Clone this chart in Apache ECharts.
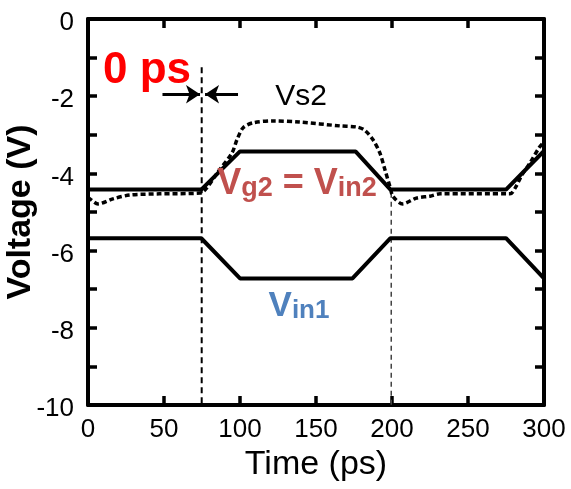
<!DOCTYPE html>
<html>
<head>
<meta charset="utf-8">
<script src="https://cdn.jsdelivr.net/npm/echarts@6/dist/echarts.min.js"></script>
<style>html,body{margin:0;padding:0;background:#fff;}#c{width:571px;height:489px;}</style>
</head>
<body>
<div id="c"></div>
<script>
// ---- data ----
var xTicks = [0, 50, 100, 150, 200, 250, 300];
var yTicks = [0, -2, -4, -6, -8, -10];
var vg2Time = [0, 74.5, 100, 176, 199, 275, 300];
var vg2Volt = [-4.42, -4.42, -3.43, -3.43, -4.42, -4.42, -3.42];
var vin1Time = [0, 74.5, 100, 174, 199, 275, 300];
var vin1Volt = [-5.68, -5.68, -6.72, -6.72, -5.68, -5.68, -6.72];
var vs2Time = [0, 1.3, 6.6, 16.4, 27.6, 47, 73.7, 78, 85, 94.7, 98, 102, 108.5, 121.7, 139, 166, 177, 182, 187.5, 192, 195.4, 198.7, 200.7, 207, 216, 225, 231.6, 277.6, 281, 285.5, 290.8, 297, 300];
var vs2Volt = [-4.62, -4.66, -4.79, -4.66, -4.56, -4.53, -4.51, -4.38, -3.99, -3.47, -3.13, -2.82, -2.69, -2.64, -2.67, -2.77, -2.8, -2.88, -3.13, -3.47, -3.91, -4.35, -4.6, -4.79, -4.64, -4.59, -4.53, -4.53, -4.38, -4.04, -3.73, -3.32, -3.19];
var marker0Time = [74.8, 74.8];
var marker0Volt = [-1.25, -10];
var marker1Time = [199.5, 199.5];
var marker1Volt = [-4.5, -10];
var arrowY = -1.95;
var arrowRight = [49, 73.7];
var arrowLeft = [98.7, 77];

function zip(a, b) { return a.map(function (v, i) { return [v, b[i]]; }); }

var FONT = 'Liberation Sans, Arial, sans-serif';
var chart = echarts.init(document.getElementById('c'), null, {renderer: 'canvas'});

var axisLineStyle = {color: '#000', width: 4};
var tickStyle = {color: '#000', width: 3.5};

chart.setOption({
  animation: false,
  backgroundColor: '#fff',
  grid: {left: 88, right: 27, top: 19, bottom: 84, containLabel: false, outerBoundsMode: 'none'},
  xAxis: [{
    type: 'value', min: 0, max: 300, interval: 50, position: 'bottom',
    name: 'Time (ps)', nameLocation: 'middle', nameGap: 40,
    nameTextStyle: {fontFamily: FONT, fontSize: 34, color: '#000'},
    axisLine: {show: true, onZero: false, lineStyle: axisLineStyle},
    axisTick: {show: true, inside: true, length: 9, lineStyle: tickStyle},
    axisLabel: {fontFamily: FONT, fontSize: 26, color: '#000', margin: 12,
      formatter: function (v) { return xTicks.indexOf(v) >= 0 ? String(v) : ''; }},
    splitLine: {show: false}
  }, {
    type: 'value', min: 0, max: 300, interval: 50, position: 'top',
    axisLine: {show: true, onZero: false, lineStyle: axisLineStyle},
    axisTick: {show: true, inside: true, length: 9, lineStyle: tickStyle},
    axisLabel: {show: false}, splitLine: {show: false}
  }],
  yAxis: [{
    type: 'value', min: -10, max: 0, interval: 1, position: 'left',
    name: 'Voltage (V)', nameLocation: 'middle', nameGap: 50, nameMoveOverlap: false,
    nameTextStyle: {fontFamily: FONT, fontSize: 34, fontWeight: 'bold', color: '#000'},
    axisLine: {show: true, onZero: false, lineStyle: axisLineStyle},
    axisTick: {show: true, inside: true, length: 9, lineStyle: tickStyle},
    axisLabel: {fontFamily: FONT, fontSize: 26, color: '#000', margin: 14, verticalAlign: 'top', lineHeight: 8,
      formatter: function (v) { return yTicks.indexOf(v) >= 0 ? String(v) : ''; }},
    splitLine: {show: false}
  }, {
    type: 'value', min: -10, max: 0, interval: 1, position: 'right',
    axisLine: {show: true, onZero: false, lineStyle: axisLineStyle},
    axisTick: {show: true, inside: true, length: 9, lineStyle: tickStyle},
    axisLabel: {show: false}, splitLine: {show: false}
  }],
  series: [
    {type: 'line', name: 'Vin1', data: zip(vin1Time, vin1Volt), symbol: 'none',
      lineStyle: {color: '#000', width: 4}, z: 3},
    {type: 'line', name: 'Vg2', data: zip(vg2Time, vg2Volt), symbol: 'none',
      lineStyle: {color: '#000', width: 4}, z: 3},
    {type: 'line', name: 'Vs2', data: zip(vs2Time, vs2Volt), symbol: 'none', smooth: 0.3,
      lineStyle: {color: '#000', width: 3.5, type: [5, 3]}, z: 4},
    {type: 'line', name: 'marker0', data: zip(marker0Time, marker0Volt), symbol: 'none',
      lineStyle: {color: '#000', width: 2, type: [6, 4]}, z: 2,
      markLine: {
        silent: true, symbol: ['none', 'arrow'], symbolSize: [14, 14],
        label: {show: false},
        lineStyle: {color: '#000', width: 3, type: 'solid'},
        data: [
          [{coord: [arrowRight[0], arrowY]}, {coord: [arrowRight[1], arrowY]}],
          [{coord: [arrowLeft[0], arrowY]}, {coord: [arrowLeft[1], arrowY]}]
        ]
      }},
    {type: 'line', name: 'marker1', data: zip(marker1Time, marker1Volt), symbol: 'none',
      lineStyle: {color: '#444', width: 1.5, type: [5, 4]}, z: 2}
  ],
  graphic: [
    {type: 'text', x: 147, y: 71, z: 10, style: {text: '0 ps', font: 'bold 44px ' + FONT, fill: '#ff0000', align: 'center', verticalAlign: 'middle'}},
    {type: 'text', x: 301, y: 97, z: 10, style: {text: 'Vs2', font: '30px ' + FONT, fill: '#000', align: 'center', verticalAlign: 'middle'}},
    {type: 'text', x: 297, y: 184, z: 10, style: {
      text: '{a|V}{b|g2}{a| = V}{b|in2}', align: 'center', verticalAlign: 'middle', fill: '#c0504d',
      rich: {
        a: {font: 'bold 36px ' + FONT, fill: '#c0504d', verticalAlign: 'bottom'},
        b: {font: 'bold 27px ' + FONT, fill: '#c0504d', verticalAlign: 'bottom'}
      }}},
    {type: 'text', x: 299, y: 306, z: 10, style: {
      text: '{a|V}{b|in1}', align: 'center', verticalAlign: 'middle', fill: '#4f81bd',
      rich: {
        a: {font: 'bold 35px ' + FONT, fill: '#4f81bd', verticalAlign: 'bottom'},
        b: {font: 'bold 26px ' + FONT, fill: '#4f81bd', verticalAlign: 'bottom'}
      }}}
  ]
});
</script>
</body>
</html>
